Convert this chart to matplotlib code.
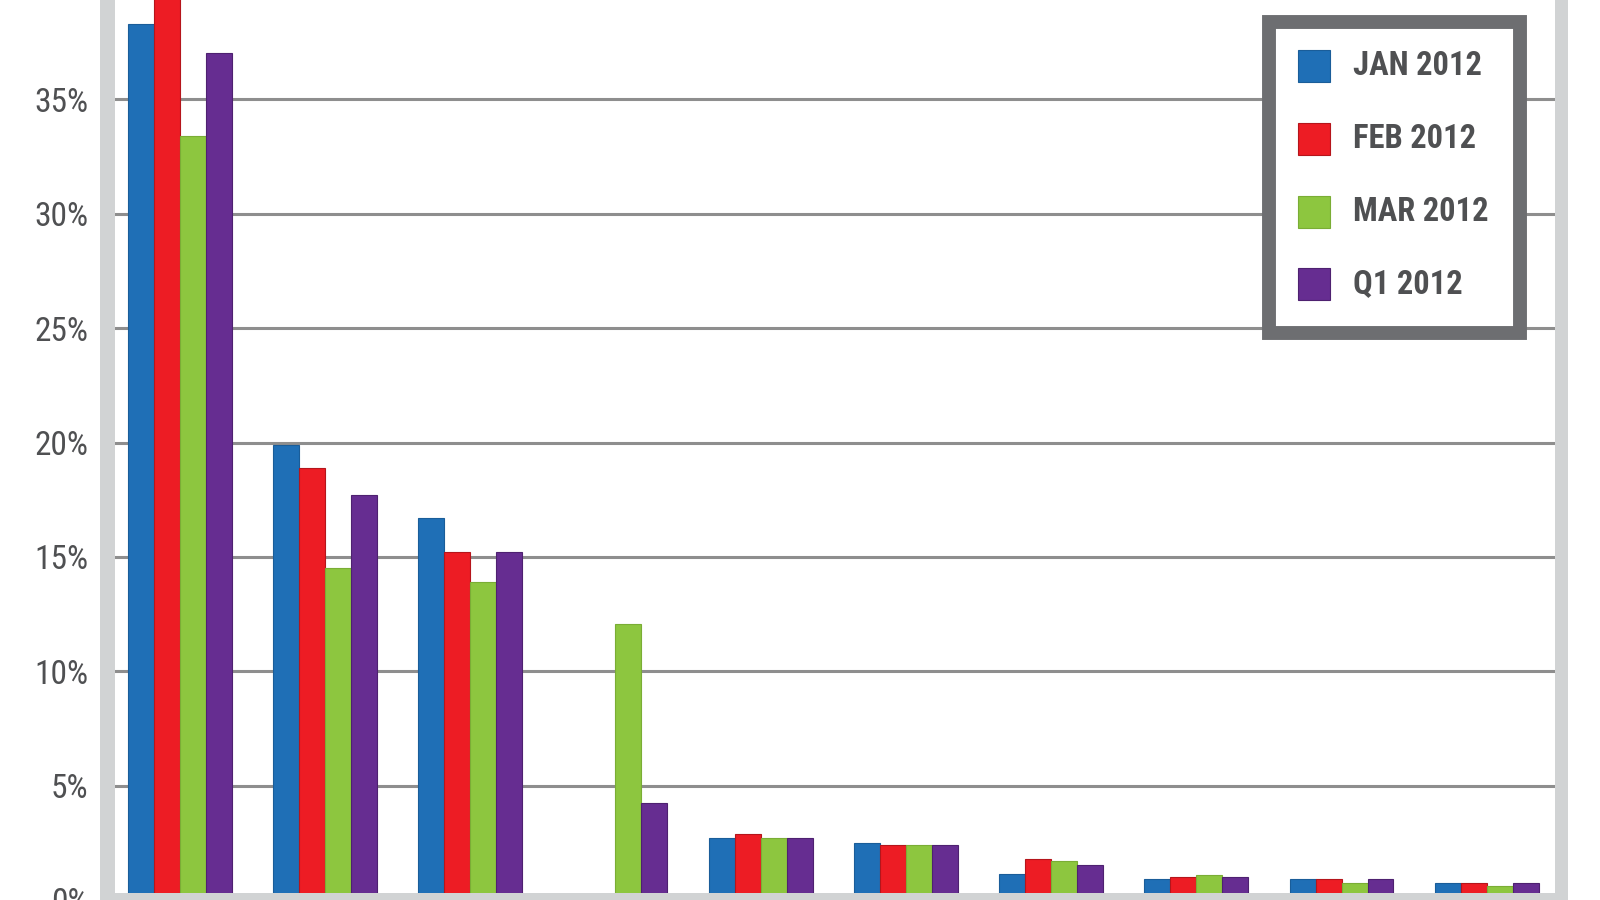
import matplotlib
matplotlib.use("Agg")
import matplotlib.pyplot as plt
from matplotlib.patches import Rectangle
from matplotlib import font_manager
import numpy as np

# ---- data ----
categories = ["A", "B", "C", "D", "E", "F", "G", "H", "I", "J"]
series_names = ["JAN 2012", "FEB 2012", "MAR 2012", "Q1 2012"]
jan = [38.3, 19.9, 16.7, 0.0, 2.7, 2.5, 1.15, 0.9, 0.9, 0.75]
feb = [40.5, 18.9, 15.2, 0.0, 2.9, 2.4, 1.8, 1.0, 0.9, 0.75]
mar = [33.4, 14.5, 13.9, 12.05, 2.7, 2.4, 1.7, 1.1, 0.75, 0.6]
q1 = [37.05, 17.7, 15.2, 4.24, 2.7, 2.4, 1.55, 1.0, 0.9, 0.75]
series_values = [jan, feb, mar, q1]
yticks = [0, 5, 10, 15, 20, 25, 30, 35]
ytick_labels = [f"{t}%" for t in yticks]

colors = ["#1f6fb6", "#ed1c24", "#8dc63f", "#662d91"]
edge_colors = ["#1a5d99", "#b5151b", "#7aad35", "#4e2170"]

W, H = 1600, 900
installed = {f.name for f in font_manager.fontManager.ttflist}
FONT = [f for f in ["Roboto Condensed", "Liberation Sans Narrow", "Roboto", "DejaVu Sans"]
        if f in installed] or ["DejaVu Sans"]
plt.rcParams["font.family"] = FONT

fig = plt.figure(figsize=(16, 9), dpi=100)
fig.patch.set_facecolor("white")

ax = fig.add_axes([115 / W, 0, (1555 - 115) / W, 1])
ax.set_xlim(-0.445, 9.47)
ax.set_ylim(0, 39.35)

x = np.arange(len(categories))
bw = 0.179
for i, (vals, c, ec) in enumerate(zip(series_values, colors, edge_colors)):
    ax.bar(x + (i - 1.5) * bw, vals, width=bw, color=c, edgecolor=ec,
           linewidth=0.8, zorder=3)

for t in yticks[1:]:
    ax.axhline(t, color="#8e8e8e", linewidth=2.2, zorder=1)

for s in ax.spines.values():
    s.set_visible(False)
ax.set_xticks([])
ax.set_yticks(yticks)
ax.set_yticklabels(ytick_labels)
ax.tick_params(axis="y", length=0, pad=19, labelsize=24, labelcolor="#4f5052")


def fx(px):
    return px / W


def fy(py):
    return 1 - py / H


band = "#d1d3d4"
fig.patches.append(Rectangle((fx(100), 0), 15 / W, 1, transform=fig.transFigure,
                             facecolor=band, edgecolor="none", zorder=5))
fig.patches.append(Rectangle((fx(1555), 0), 13 / W, 1, transform=fig.transFigure,
                             facecolor=band, edgecolor="none", zorder=5))
fig.patches.append(Rectangle((fx(100), 0), (1568 - 100) / W, 7 / H, transform=fig.transFigure,
                             facecolor=band, edgecolor="none", zorder=5))

# legend box
lx0, lx1, ly0, ly1 = 1269, 1520, 22, 333
fig.patches.append(Rectangle((fx(lx0), fy(ly1)), (lx1 - lx0) / W, (ly1 - ly0) / H,
                             transform=fig.transFigure, facecolor="white",
                             edgecolor="#6d6e71", linewidth=10.0, zorder=6,
                             joinstyle="miter"))
ycent = [66, 139, 212, 284]
for name, c, ec, yc in zip(series_names, colors, edge_colors, ycent):
    fig.patches.append(Rectangle((fx(1298), fy(yc + 16)), 32 / W, 32 / H,
                                 transform=fig.transFigure, facecolor=c,
                                 edgecolor=ec, linewidth=0.8, zorder=7))
    fig.text(fx(1353), fy(yc), name, ha="left", va="center", fontsize=23.5,
             fontweight="bold", color="#4f5052", zorder=8)

fig.savefig("out.png", dpi=100, facecolor="white")
